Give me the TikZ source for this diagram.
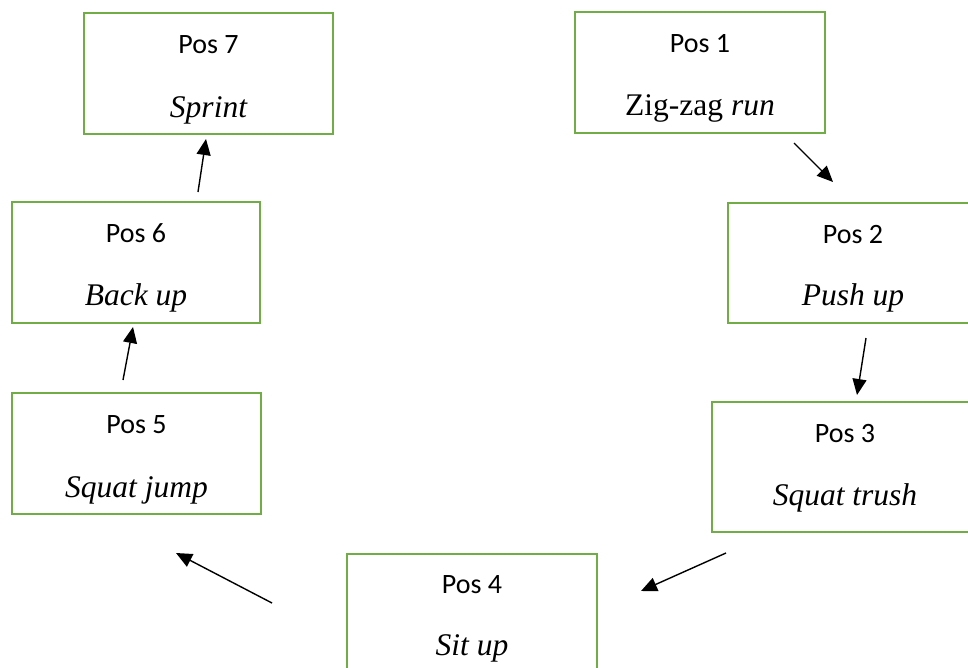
\documentclass[tikz,border=0pt]{standalone}
\usepackage{fontspec}
\setmainfont{Liberation Serif}
\newfontfamily\labelfont{Carlito}
\usetikzlibrary{arrows.meta,calc}
\definecolor{stationgreen}{HTML}{70AD47}
\begin{document}
\begin{tikzpicture}[x=1pt,y=-1pt,
  station/.style 2 args={draw=stationgreen, line width=2.7pt, rectangle,
    minimum width=#1pt, minimum height=#2pt, inner sep=0pt, outer sep=0pt,
    anchor=north west},
  posname/.style={anchor=base, inner sep=0pt,
    font=\labelfont\fontsize{28}{34}\selectfont},
  exercise/.style={anchor=base, inner sep=0pt,
    font=\fontsize{31.5}{38}\selectfont\itshape},
  flow/.style={line width=1.4pt, -{Triangle[length=16pt,width=14pt]}}
]
\useasboundingbox (0,0) rectangle (968,667);
\clip (0,0) rectangle (968,667);

% stations
\node[station={249}{121}] (s7) at (84,13) {};
\node[station={250}{121}] (s1) at (575,12) {};
\node[station={248}{121}] (s6) at (12,202) {};
\node[station={250}{120}] (s2) at (728,203) {};
\node[station={249}{121}] (s5) at (12,393) {};
\node[station={266}{130}] (s3) at (712,402) {};
\node[station={250}{120}] (s4) at (347,554) {};

% station titles and exercises
\node[posname] (t7) at ($(s7.north)+(0,40)$) {Pos 7};
\node[exercise] (e7) at ($(s7.north)+(0,104)$) {Sprint};
\node[posname] (t1) at ($(s1.north)+(0,40)$) {Pos 1};
\node[exercise] (e1) at ($(s1.north)+(0,103)$) {\upshape Zig-zag \itshape run};
\node[posname] (t6) at ($(s6.north)+(0,40)$) {Pos 6};
\node[exercise] (e6) at ($(s6.north)+(0,103)$) {Back up};
\node[posname] (t2) at ($(s2.north)+(0,40)$) {Pos 2};
\node[exercise] (e2) at ($(s2.north)+(0,102)$) {Push up};
\node[posname] (t5) at ($(s5.north)+(0,40)$) {Pos 5};
\node[exercise] (e5) at ($(s5.north)+(0,104)$) {Squat jump};
\node[posname] (t3) at ($(s3.north)+(0,40)$) {Pos 3};
\node[exercise] (e3) at ($(s3.north)+(0,103)$) {Squat trush};
\node[posname] (t4) at ($(s4.north)+(0,39)$) {Pos 4};
\node[exercise] (e4) at ($(s4.north)+(0,101)$) {Sit up};

% arrow end points between stations
\coordinate (a12s) at (794,143); \coordinate (a12e) at (833,182);
\coordinate (a23s) at (866,338); \coordinate (a23e) at (857,395);
\coordinate (a34s) at (726,553); \coordinate (a34e) at (641,591);
\coordinate (a45s) at (272,603); \coordinate (a45e) at (176,553);
\coordinate (a56s) at (123,380); \coordinate (a56e) at (133,327);
\coordinate (a67s) at (198,192); \coordinate (a67e) at (206,139);

\draw[flow] (a12s) -- (a12e);
\draw[flow] (a23s) -- (a23e);
\draw[flow] (a34s) -- (a34e);
\draw[flow] (a45s) -- (a45e);
\draw[flow] (a56s) -- (a56e);
\draw[flow] (a67s) -- (a67e);
\end{tikzpicture}
\end{document}
